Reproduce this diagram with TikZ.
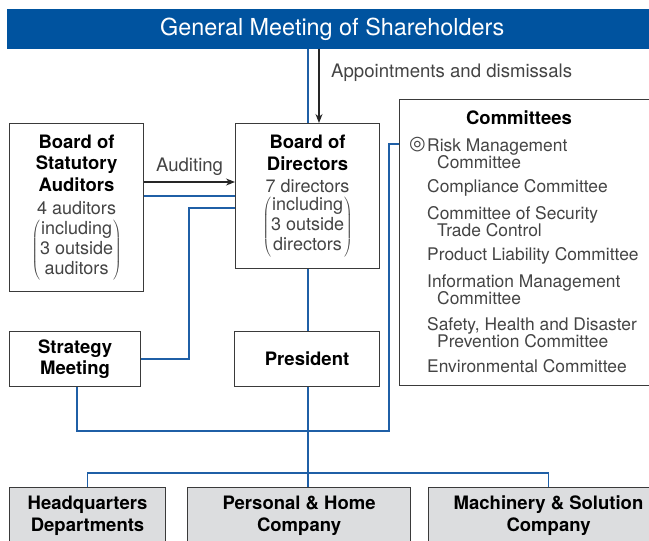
\documentclass[tikz,border=0pt]{standalone}
\usepackage{fontspec}
\setmainfont{TeX Gyre Heros}
\newfontfamily\markfont{DejaVu Sans}
\usetikzlibrary{arrows.meta}

\definecolor{gmblue}{HTML}{00539F}
\definecolor{lnblue}{HTML}{1F5FA6}
\definecolor{boxgray}{HTML}{3A3A3A}
\definecolor{txtgray}{HTML}{444444}
\definecolor{unitgray}{HTML}{DCDDDF}

\newcommand{\parenlines}[1]{{\mdseries\color{txtgray}\fontsize{18}{20}\selectfont$\left(\begin{tabular}{@{}c@{}}#1\end{tabular}\right)$}}
\newcommand{\notelines}[1]{{\mdseries\color{txtgray}\fontsize{18}{20}\selectfont #1}}

\tikzset{
    box/.style = {draw=boxgray, line width=1.1pt, fill=white, anchor=north west,
        inner sep=0pt, align=center, text=black,
        font=\fontsize{18.5}{21.5}\selectfont\bfseries},
    unitbox/.style = {box, fill=unitgray},
    blueline/.style = {draw=lnblue, line width=1.5pt},
    arr/.style = {draw=black!85, line width=1.1pt, -{Stealth[length=9pt,width=7pt]}},
    note/.style = {text=txtgray, inner sep=0pt, font=\fontsize{18.6}{20}\selectfont},
    item/.style = {note, anchor=west, align=left, font=\fontsize{17.4}{17}\selectfont},
}

\begin{document}
\begin{tikzpicture}[x=1pt, y=-1pt]
    \useasboundingbox (0,0) rectangle (649,541);
    \clip (0,0) rectangle (649,541);

    % top bar
    \node (gms) [fill=gmblue, text=white, anchor=north west, inner sep=0pt,
        minimum width=650pt, minimum height=40pt,
        font=\fontsize{23.4}{26}\selectfont] at (7,9) {General Meeting of Shareholders};

    % boards
    \node (bsa) [box, minimum width=134pt, minimum height=168pt] at (9,123)
        {Board of\\Statutory\\Auditors\\[2pt]
         \notelines{4 auditors}\\[4pt]
         \parenlines{including\\3 outside\\auditors}};
    \node (bod) [box, minimum width=144pt, minimum height=145pt] at (235,123)
        {Board of\\Directors\\[1pt]
         \notelines{7 directors}\\[3pt]
         \parenlines{including\\3 outside\\directors}};
    \node (strat) [box, minimum width=131pt, minimum height=55pt] at (9,331) {Strategy\\Meeting};
    \node (pres) [box, minimum width=145pt, minimum height=55pt] at (234,331) {President};

    % committees
    \node (comm) [box, minimum width=260pt, minimum height=286pt] at (399,99) {};
    \node (commtitle) [font=\fontsize{18.5}{21.5}\selectfont\bfseries, inner sep=0pt] at (519,118) {Committees};
    \node (mark) [note, anchor=east, font=\markfont\fontsize{19}{19}\selectfont] at (426,145) {◎};
    \node (risk) [item] at (427,153.5) {Risk Management\\\hspace*{10pt}Committee};
    \node (compl) [item] at (427,188) {Compliance Committee};
    \node (secur) [item] at (427,221.5) {Committee of Security\\\hspace*{10pt}Trade Control};
    \node (prod) [item] at (427,256) {Product Liability Committee};
    \node (info) [item] at (427,289.5) {Information Management\\\hspace*{10pt}Committee};
    \node (safety) [item] at (427,332.5) {Safety, Health and Disaster\\\hspace*{10pt}Prevention Committee};
    \node (env) [item] at (427,366) {Environmental Committee};

    % business units
    \node (hq) [unitbox, minimum width=156pt, minimum height=56pt] at (9,487) {Headquarters\\Departments};
    \node (phc) [unitbox, minimum width=223pt, minimum height=56pt] at (187,487) {Personal \& Home\\Company};
    \node (msc) [unitbox, minimum width=240pt, minimum height=56pt] at (428,487) {Machinery \& Solution\\Company};

    % connectors
    \draw[blueline] (gms.south -| 308,0) -- (bod.north -| 308,0);
    \draw[arr] (gms.south -| 319,0) -- (bod.north -| 319,0);
    \node (appt) [note, anchor=west] at (331,73) {Appointments and dismissals};

    \draw[arr] (bsa.east |- 0,182) -- node[note, above=6pt] {Auditing} (bod.west |- 0,182);
    \draw[blueline] (bsa.east |- 0,196) -- (bod.west |- 0,196);

    \coordinate (sbend) at (189,208);
    \draw[blueline] (strat.east) -| (sbend) -- (bod.west |- sbend);

    \draw[blueline] (bod.south -| 308,0) -- (pres.north -| 308,0);

    \coordinate (cbend) at (389,431);
    \draw[blueline] (strat.south -| 77,0) |- (cbend) |- (comm.west |- 0,144);

    \coordinate (trunk) at (308,473);
    \draw[blueline] (pres.south -| trunk) -- (phc.north -| trunk);
    \draw[blueline] (hq.north) |- (trunk) -| (msc.north);
\end{tikzpicture}
\end{document}
